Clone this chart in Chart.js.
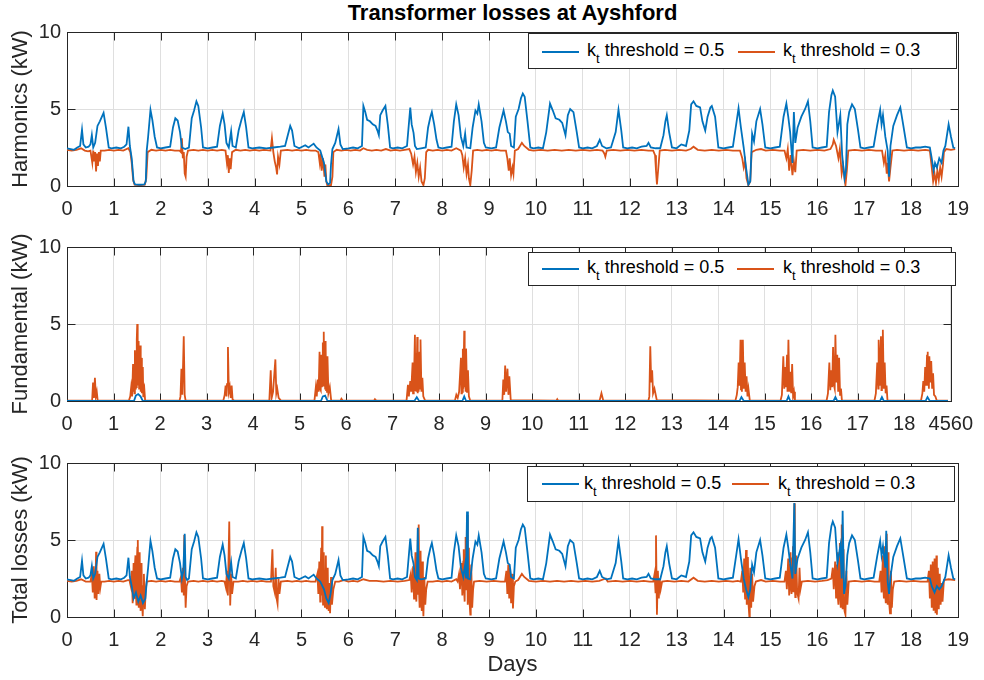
<!DOCTYPE html>
<html>
<head>
<meta charset="utf-8">
<script src="https://cdn.jsdelivr.net/npm/chart.js@4.4.1/dist/chart.umd.min.js"></script>
<style>
  body { margin: 0; background: #fff; }
  #wrap { position: relative; width: 984px; height: 680px; overflow: hidden; font-family: "Liberation Sans", Arial, sans-serif; }
  canvas { position: absolute; left: 0; }
  .title { position: absolute; left: 67px; width: 891px; top: 0; text-align: center; font-weight: bold; font-size: 22px; line-height: 26px; color: #000; }
  .legend { position: absolute; border: 1px solid #262626; background: #fff; box-sizing: border-box; }
  .legend .swatch { position: absolute; width: 37px; height: 2px; }
  .legend .txt { position: absolute; font-size: 18px; line-height: 22px; color: #000; white-space: nowrap; }
  .legend sub { font-size: 13px; position: relative; top: 7px; vertical-align: baseline; }
</style>
</head>
<body>
<div id="wrap">
  <div class="title">Transformer losses at Ayshford</div>
  <canvas id="harm" width="984" height="218" style="top:0px"></canvas>
  <canvas id="fund" width="984" height="218" style="top:218px"></canvas>
  <canvas id="total" width="984" height="244" style="top:436px"></canvas>
</div>
<script>
// [day, kW] pairs
const harmonicsK05 = [
  [0,2.45],[0.08,2.4],[0.15,2.35],[0.22,2.5],[0.28,2.6],[0.32,3.65],[0.35,2.7],[0.4,2.5],[0.46,2.55],[0.5,2.7],[0.53,3.3],[0.56,2.5],[0.6,2.8],[0.65,3.9],[0.7,4.2],[0.78,4.75],[0.83,3.8],[0.89,2.5],[0.95,2.45],
  [1.05,2.5],[1.15,2.45],[1.22,2.55],[1.27,2.7],[1.31,3.85],[1.34,2.6],[1.38,1.8],[1.42,0.3],[1.45,0.1],[1.55,0.08],[1.65,0.1],[1.68,0.3],[1.7,2.3],[1.73,3.2],[1.78,4.95],[1.82,4.3],[1.87,3.2],[1.92,2.5],
  [2.0,2.45],[2.1,2.5],[2.2,2.55],[2.26,3.8],[2.31,4.4],[2.36,4.25],[2.41,3.5],[2.45,2.5],[2.52,2.4],[2.6,2.5],[2.66,4.4],[2.71,4.9],[2.76,5.5],[2.8,5.2],[2.86,3.8],[2.9,2.5],
  [3.0,2.45],[3.1,2.5],[3.2,2.55],[3.26,3.9],[3.32,4.7],[3.36,4.0],[3.4,2.8],[3.45,2.5],[3.5,3.55],[3.53,2.6],[3.6,2.5],[3.66,3.6],[3.72,4.3],[3.77,4.8],[3.82,3.8],[3.87,2.5],[3.95,2.45],
  [4.1,2.5],[4.25,2.45],[4.4,2.5],[4.55,2.55],[4.65,2.6],[4.7,3.2],[4.76,3.9],[4.8,3.6],[4.85,2.6],[4.95,2.45],
  [5.08,2.65],[5.15,2.5],[5.26,2.75],[5.32,2.5],[5.4,2.3],[5.48,1.5],[5.53,0.3],[5.57,0.1],[5.61,0.2],[5.63,1.4],[5.66,2.4],[5.72,2.8],[5.79,3.7],[5.83,2.7],[5.88,2.4],
  [6.0,2.45],[6.1,2.5],[6.2,2.45],[6.29,2.6],[6.32,5.2],[6.36,4.8],[6.4,4.3],[6.46,4.2],[6.52,4.0],[6.58,3.9],[6.62,3.6],[6.65,3.3],[6.68,4.6],[6.73,4.9],[6.79,5.2],[6.84,4.0],[6.89,2.5],[6.95,2.45],
  [7.05,2.5],[7.15,2.45],[7.25,2.6],[7.32,5.1],[7.35,4.0],[7.39,3.45],[7.42,2.6],[7.46,2.4],[7.55,2.45],[7.65,2.5],[7.7,3.8],[7.75,4.5],[7.78,4.8],[7.83,4.0],[7.88,3.0],[7.92,2.5],
  [8.0,2.45],[8.1,2.5],[8.2,2.55],[8.25,4.2],[8.3,5.3],[8.35,4.6],[8.4,3.2],[8.45,2.6],[8.49,3.4],[8.52,2.5],[8.6,2.45],[8.65,3.8],[8.71,4.9],[8.75,4.7],[8.78,5.3],[8.84,4.2],[8.89,2.8],[8.93,2.5],
  [9.05,2.45],[9.15,2.5],[9.22,3.8],[9.31,4.9],[9.36,4.2],[9.4,3.5],[9.44,3.4],[9.47,2.6],[9.53,2.5],[9.57,4.5],[9.63,5.0],[9.68,5.7],[9.72,6.0],[9.76,5.8],[9.82,4.2],[9.88,2.5],[9.95,2.45],
  [10.05,2.5],[10.15,2.45],[10.22,3.5],[10.3,5.35],[10.36,4.9],[10.42,4.4],[10.5,4.3],[10.56,4.1],[10.63,3.3],[10.68,4.6],[10.73,5.0],[10.8,4.8],[10.87,3.5],[10.92,2.5],
  [11.0,2.45],[11.1,2.5],[11.2,2.45],[11.3,2.6],[11.36,3.0],[11.41,2.6],[11.5,2.45],[11.6,2.5],[11.7,3.5],[11.76,4.95],[11.82,3.6],[11.86,2.5],[11.95,2.45],
  [12.05,2.5],[12.15,2.45],[12.25,2.55],[12.36,2.6],[12.4,2.8],[12.45,2.5],[12.55,2.45],[12.65,2.45],[12.72,3.3],[12.76,4.2],[12.79,4.6],[12.84,3.5],[12.9,2.5],
  [13.0,2.45],[13.1,2.7],[13.2,2.6],[13.27,3.6],[13.31,5.3],[13.36,5.5],[13.42,5.2],[13.5,5.1],[13.55,4.2],[13.61,3.6],[13.66,4.5],[13.72,5.1],[13.75,5.2],[13.82,4.5],[13.89,2.5],
  [14.0,2.45],[14.1,2.5],[14.2,2.55],[14.27,4.0],[14.32,5.05],[14.37,3.8],[14.43,2.5],[14.48,1.2],[14.53,0.1],[14.57,0.3],[14.61,3.4],[14.65,2.9],[14.7,4.2],[14.78,5.0],[14.83,4.0],[14.89,2.5],
  [15.0,2.45],[15.1,2.5],[15.2,2.55],[15.28,4.5],[15.34,5.35],[15.38,4.5],[15.42,3.5],[15.47,1.5],[15.5,4.8],[15.53,2.8],[15.58,3.8],[15.66,4.5],[15.74,5.0],[15.8,5.5],[15.85,4.2],[15.9,2.5],
  [16.0,2.45],[16.1,2.5],[16.2,2.55],[16.25,4.8],[16.3,5.9],[16.33,6.2],[16.38,5.8],[16.43,3.5],[16.49,4.6],[16.53,2.0],[16.58,0.5],[16.61,1.0],[16.64,4.0],[16.68,4.8],[16.74,5.3],[16.8,5.0],[16.87,3.6],[16.92,2.5],
  [17.0,2.45],[17.1,2.5],[17.2,2.55],[17.28,4.0],[17.34,4.95],[17.37,4.0],[17.4,4.6],[17.45,3.2],[17.5,2.3],[17.53,0.6],[17.56,2.6],[17.62,3.9],[17.7,4.6],[17.77,5.1],[17.83,4.0],[17.91,2.5],
  [18.0,2.45],[18.1,2.5],[18.2,2.5],[18.3,2.55],[18.4,2.5],[18.44,1.8],[18.48,1.0],[18.51,1.5],[18.55,1.2],[18.6,1.8],[18.65,1.5],[18.69,2.3],[18.73,2.6],[18.8,4.0],[18.85,3.2],[18.9,2.5],[18.94,2.45]
];

const harmonicsK03 = [
  [0,2.35],[0.1,2.3],[0.2,2.35],[0.3,2.45],[0.38,2.3],[0.45,2.25],[0.5,2.3],[0.54,1.5],[0.56,2.3],[0.58,1.6],[0.6,2.2],[0.62,0.95],[0.64,2.1],[0.66,1.3],[0.68,2.2],[0.7,1.6],[0.72,2.3],[0.8,2.3],[0.9,2.35],
  [1.0,2.3],[1.1,2.35],[1.2,2.3],[1.31,2.45],[1.35,2.2],[1.38,1.5],[1.41,0.4],[1.44,0.08],[1.55,0.05],[1.66,0.08],[1.69,0.5],[1.72,2.2],[1.8,2.35],[1.9,2.3],
  [2.0,2.35],[2.1,2.3],[2.2,2.35],[2.3,2.3],[2.4,2.3],[2.43,2.2],[2.45,3.1],[2.47,1.8],[2.49,2.2],[2.51,0.8],[2.53,0.6],[2.55,1.9],[2.58,2.3],[2.7,2.35],[2.8,2.3],[2.9,2.35],
  [3.0,2.3],[3.1,2.35],[3.2,2.3],[3.3,2.35],[3.38,2.3],[3.41,1.5],[3.43,2.0],[3.45,0.85],[3.47,1.8],[3.49,1.1],[3.52,2.2],[3.6,2.35],[3.7,2.3],[3.8,2.35],[3.9,2.3],
  [4.0,2.35],[4.1,2.3],[4.2,2.35],[4.34,2.3],[4.37,3.1],[4.4,2.2],[4.43,1.6],[4.46,1.2],[4.48,0.75],[4.5,1.9],[4.53,1.4],[4.56,2.3],[4.7,2.35],[4.8,2.3],[4.9,2.35],
  [5.0,2.3],[5.1,2.35],[5.2,2.3],[5.3,2.3],[5.36,2.2],[5.39,1.5],[5.41,2.1],[5.43,1.0],[5.46,1.8],[5.49,0.6],[5.51,1.4],[5.53,0.3],[5.55,0.05],[5.63,0.05],[5.66,0.6],[5.68,2.2],[5.75,2.35],[5.85,2.3],[5.95,2.35],
  [6.05,2.3],[6.15,2.35],[6.25,2.3],[6.32,2.45],[6.4,2.35],[6.5,2.3],[6.6,2.35],[6.7,2.3],[6.8,2.4],[6.9,2.3],
  [7.0,2.35],[7.1,2.3],[7.2,2.35],[7.3,2.4],[7.34,2.1],[7.38,1.4],[7.41,1.9],[7.44,0.9],[7.47,1.5],[7.5,0.6],[7.53,1.2],[7.56,0.3],[7.6,0.05],[7.63,0.5],[7.66,2.2],[7.7,2.35],[7.8,2.3],[7.9,2.35],
  [8.0,2.3],[8.1,2.35],[8.2,2.3],[8.3,2.45],[8.4,2.3],[8.43,2.0],[8.46,1.2],[8.49,1.8],[8.52,0.8],[8.55,1.4],[8.57,0.5],[8.6,0.05],[8.63,1.0],[8.66,2.3],[8.75,2.35],[8.85,2.3],[8.95,2.35],
  [9.05,2.3],[9.15,2.35],[9.25,2.3],[9.36,2.3],[9.39,1.8],[9.42,1.0],[9.44,1.8],[9.47,0.7],[9.5,1.2],[9.52,0.8],[9.55,2.3],[9.62,2.4],[9.7,2.8],[9.75,2.6],[9.85,2.35],[9.95,2.3],
  [10.1,2.35],[10.25,2.3],[10.4,2.35],[10.55,2.3],[10.7,2.35],[10.85,2.3],[11.0,2.35],[11.15,2.3],[11.3,2.35],[11.42,2.3],[11.46,2.1],[11.48,1.9],[11.51,2.3],[11.65,2.35],[11.8,2.3],[11.95,2.35],
  [12.1,2.3],[12.25,2.35],[12.4,2.3],[12.5,2.3],[12.54,2.0],[12.56,1.0],[12.58,0.1],[12.61,1.2],[12.64,2.3],[12.75,2.35],[12.9,2.3],
  [13.05,2.35],[13.2,2.3],[13.3,2.4],[13.36,2.55],[13.45,2.35],[13.6,2.3],[13.75,2.35],[13.9,2.3],
  [14.05,2.35],[14.2,2.3],[14.35,2.3],[14.4,1.8],[14.43,1.2],[14.46,1.6],[14.49,0.5],[14.53,0.05],[14.57,0.3],[14.6,2.2],[14.7,2.35],[14.8,2.4],[14.9,2.3],
  [15.05,2.35],[15.2,2.3],[15.3,2.3],[15.34,1.8],[15.37,2.4],[15.4,1.0],[15.43,2.0],[15.47,0.7],[15.5,1.6],[15.53,0.9],[15.56,2.3],[15.7,2.35],[15.85,2.3],
  [16.0,2.35],[16.15,2.3],[16.28,2.4],[16.33,2.7],[16.35,3.0],[16.4,2.6],[16.45,1.8],[16.48,2.4],[16.52,0.8],[16.55,1.3],[16.6,0.05],[16.63,1.0],[16.66,2.3],[16.8,2.35],[16.95,2.3],
  [17.1,2.35],[17.25,2.3],[17.38,2.3],[17.42,1.5],[17.45,2.0],[17.48,0.8],[17.5,1.5],[17.53,0.3],[17.56,1.2],[17.6,2.3],[17.7,2.35],[17.85,2.3],
  [18.0,2.35],[18.15,2.3],[18.3,2.35],[18.4,2.3],[18.44,1.2],[18.47,0.3],[18.5,0.8],[18.53,0.2],[18.56,1.0],[18.59,0.4],[18.62,1.2],[18.65,0.6],[18.68,1.4],[18.7,2.2],[18.75,2.4],[18.85,2.35],[18.94,2.4]
];

const fundamentalK05 = [
  [0,0],[1.44,0],[1.48,0.35],[1.53,0.45],[1.58,0.3],[1.63,0],[5.46,0],[5.5,0.3],[5.55,0.35],[5.6,0],
  [7.47,0],[7.52,0.25],[7.57,0],[8.5,0],[8.54,0.3],[8.58,0],[14.46,0],[14.5,0.25],[14.55,0],
  [15.47,0],[15.51,0.3],[15.55,0],[16.48,0],[16.52,0.25],[16.56,0],[17.48,0],[17.52,0.25],[17.56,0],
  [18.46,0],[18.5,0.25],[18.55,0],[18.94,0]
];

const fundamentalK03 = [
  [0,0.02],[0.54,0.02],[0.56,1.2],[0.58,0.2],[0.6,1.5],[0.62,0.3],[0.64,0.6],[0.66,0.02],
  [1.33,0.02],[1.36,0.3],[1.38,0.9],[1.4,0.3],[1.42,2.4],[1.43,0.6],[1.44,1.8],[1.45,0.5],[1.46,3.3],[1.47,0.8],[1.48,2.6],[1.49,0.9],[1.5,4.0],[1.51,5.0],[1.52,1.0],[1.53,3.2],[1.54,3.9],[1.55,0.8],[1.56,3.0],[1.57,3.6],[1.58,0.6],[1.59,2.4],[1.6,2.8],[1.61,0.5],[1.62,1.8],[1.63,2.2],[1.64,0.3],[1.65,0.8],[1.66,0.9],[1.68,0.02],
  [2.42,0.02],[2.44,0.3],[2.46,2.1],[2.48,0.4],[2.51,4.2],[2.53,0.4],[2.55,0.02],
  [3.36,0.02],[3.39,0.4],[3.41,1.0],[3.43,0.3],[3.44,1.1],[3.46,3.5],[3.48,0.6],[3.5,0.9],[3.52,0.2],[3.54,1.0],[3.56,0.1],[3.6,0.02],
  [4.35,0.02],[4.38,2.0],[4.4,0.2],[4.43,0.6],[4.48,2.7],[4.5,0.5],[4.52,0.8],[4.55,0.2],[4.6,0.02],
  [5.32,0.02],[5.35,0.9],[5.37,0.3],[5.39,1.4],[5.41,0.6],[5.43,3.2],[5.44,0.8],[5.45,2.2],[5.46,0.7],[5.47,3.0],[5.48,0.9],[5.49,2.4],[5.5,3.8],[5.51,1.0],[5.52,4.5],[5.53,1.2],[5.54,3.4],[5.55,0.8],[5.56,3.9],[5.57,0.7],[5.58,2.6],[5.59,0.6],[5.6,2.9],[5.62,0.5],[5.65,0.9],[5.68,0.02],
  [5.88,0.02],[5.9,0.15],[5.93,0.02],[6.6,0.02],[6.62,0.12],[6.65,0.02],
  [7.3,0.02],[7.33,1.05],[7.35,0.3],[7.38,1.3],[7.4,0.6],[7.43,2.5],[7.44,0.5],[7.45,1.8],[7.46,0.6],[7.48,4.3],[7.49,0.7],[7.5,3.1],[7.51,0.6],[7.53,4.15],[7.54,0.5],[7.55,2.4],[7.56,0.6],[7.58,3.2],[7.59,0.8],[7.6,4.0],[7.62,0.6],[7.64,1.5],[7.66,0.3],[7.7,0.02],
  [8.34,0.02],[8.37,0.4],[8.4,0.2],[8.43,0.6],[8.47,2.8],[8.48,0.5],[8.49,1.6],[8.5,0.6],[8.51,3.4],[8.52,0.8],[8.54,4.56],[8.55,0.9],[8.56,3.0],[8.57,0.6],[8.58,3.4],[8.6,0.6],[8.62,2.0],[8.64,0.3],[8.67,0.02],
  [9.36,0.02],[9.38,1.4],[9.4,0.4],[9.42,2.3],[9.44,0.6],[9.47,2.1],[9.49,0.4],[9.51,1.6],[9.54,0.05],
  [10.52,0.02],[10.54,0.12],[10.56,0.02],[11.45,0.02],[11.49,0.5],[11.53,0.02],
  [12.5,0.02],[12.52,0.3],[12.54,3.55],[12.56,1.2],[12.58,2.0],[12.6,0.5],[12.63,0.8],[12.68,0.05],
  [14.37,0.02],[14.4,0.4],[14.42,0.9],[14.44,2.5],[14.46,1.0],[14.48,3.98],[14.49,0.7],[14.5,2.4],[14.51,0.6],[14.53,3.98],[14.55,0.8],[14.57,2.5],[14.59,0.6],[14.61,1.6],[14.63,0.3],[14.65,0.8],[14.68,0.02],
  [15.34,0.02],[15.37,0.4],[15.4,2.9],[15.42,0.8],[15.44,2.2],[15.46,0.9],[15.48,3.0],[15.49,0.6],[15.51,3.98],[15.53,0.6],[15.55,1.9],[15.57,0.5],[15.59,2.4],[15.61,0.3],[15.63,0.6],[15.65,0.02],
  [16.33,0.02],[16.36,0.5],[16.39,2.5],[16.41,0.7],[16.43,2.0],[16.45,0.9],[16.47,3.5],[16.49,1.0],[16.5,2.6],[16.51,0.8],[16.52,4.3],[16.54,1.2],[16.56,3.0],[16.58,0.6],[16.6,2.8],[16.62,0.4],[16.64,0.8],[16.66,0.02],
  [17.36,0.02],[17.39,0.5],[17.42,2.5],[17.44,0.8],[17.45,3.98],[17.47,1.0],[17.5,4.2],[17.51,0.7],[17.52,2.5],[17.53,0.9],[17.54,4.63],[17.56,0.8],[17.58,2.5],[17.6,0.5],[17.62,1.0],[17.64,0.02],
  [18.36,0.02],[18.39,0.5],[18.41,1.3],[18.43,0.6],[18.45,2.2],[18.47,1.0],[18.49,3.0],[18.5,3.2],[18.51,1.0],[18.52,2.4],[18.53,0.8],[18.54,2.9],[18.56,1.2],[18.58,2.6],[18.6,0.8],[18.62,1.8],[18.64,0.4],[18.67,0.3],[18.7,0.02],[18.94,0.02]
];

const totalK05 = [
  [0,2.45],[0.08,2.4],[0.15,2.35],[0.22,2.5],[0.28,2.6],[0.32,3.65],[0.35,2.7],[0.4,2.5],[0.46,2.55],[0.5,2.7],[0.53,3.3],[0.56,2.5],[0.6,2.8],[0.65,3.9],[0.7,4.2],[0.78,4.75],[0.83,3.8],[0.89,2.5],[0.95,2.45],
  [1.05,2.5],[1.15,2.45],[1.22,2.55],[1.27,2.7],[1.31,3.85],[1.34,2.6],[1.38,2.0],[1.42,1.2],[1.47,1.6],[1.52,1.0],[1.57,1.4],[1.62,0.9],[1.67,1.2],[1.7,2.3],[1.73,3.2],[1.78,4.95],[1.82,4.3],[1.87,3.2],[1.92,2.5],
  [2.0,2.45],[2.1,2.5],[2.2,2.55],[2.26,3.8],[2.31,4.4],[2.36,4.25],[2.41,3.5],[2.45,2.5],[2.48,3.0],[2.51,5.4],[2.53,2.6],[2.56,2.4],[2.6,2.5],[2.66,4.4],[2.71,4.9],[2.76,5.5],[2.8,5.2],[2.86,3.8],[2.9,2.5],
  [3.0,2.45],[3.1,2.5],[3.2,2.55],[3.26,3.9],[3.32,4.7],[3.36,4.0],[3.4,2.8],[3.45,2.5],[3.5,3.55],[3.53,2.6],[3.6,2.5],[3.66,3.6],[3.72,4.3],[3.77,4.8],[3.82,3.8],[3.87,2.5],[3.95,2.45],
  [4.1,2.5],[4.25,2.45],[4.4,2.5],[4.55,2.55],[4.65,2.6],[4.7,3.2],[4.76,3.9],[4.8,3.6],[4.85,2.6],[4.95,2.45],
  [5.08,2.65],[5.15,2.5],[5.26,2.75],[5.32,2.5],[5.4,2.3],[5.48,1.8],[5.53,1.2],[5.58,0.9],[5.62,1.5],[5.66,2.4],[5.72,2.8],[5.79,3.7],[5.83,2.7],[5.88,2.4],
  [6.0,2.45],[6.1,2.5],[6.2,2.45],[6.29,2.6],[6.32,5.2],[6.36,4.8],[6.4,4.3],[6.46,4.2],[6.52,4.0],[6.58,3.9],[6.62,3.6],[6.65,3.3],[6.68,4.6],[6.73,4.9],[6.79,5.2],[6.84,4.0],[6.89,2.5],[6.95,2.45],
  [7.05,2.5],[7.15,2.45],[7.25,2.6],[7.32,5.1],[7.35,4.0],[7.39,3.45],[7.42,2.6],[7.46,2.4],[7.48,5.8],[7.5,2.5],[7.55,2.45],[7.65,2.5],[7.7,3.8],[7.75,4.5],[7.78,4.8],[7.83,4.0],[7.88,3.0],[7.92,2.5],
  [8.0,2.45],[8.1,2.5],[8.2,2.55],[8.25,4.2],[8.3,5.3],[8.35,4.6],[8.4,3.2],[8.45,2.6],[8.49,3.4],[8.51,2.5],[8.53,6.85],[8.55,2.5],[8.6,2.45],[8.65,3.8],[8.71,4.9],[8.75,4.7],[8.78,5.3],[8.84,4.2],[8.89,2.8],[8.93,2.5],
  [9.05,2.45],[9.15,2.5],[9.22,3.8],[9.31,4.9],[9.36,4.2],[9.4,3.5],[9.44,3.4],[9.47,2.6],[9.53,2.5],[9.57,4.5],[9.63,5.0],[9.68,5.7],[9.72,6.0],[9.76,5.8],[9.82,4.2],[9.88,2.5],[9.95,2.45],
  [10.05,2.5],[10.15,2.45],[10.22,3.5],[10.3,5.35],[10.36,4.9],[10.42,4.4],[10.5,4.3],[10.56,4.1],[10.63,3.3],[10.68,4.6],[10.73,5.0],[10.8,4.8],[10.87,3.5],[10.92,2.5],
  [11.0,2.45],[11.1,2.5],[11.2,2.45],[11.3,2.6],[11.36,3.0],[11.41,2.6],[11.5,2.45],[11.6,2.5],[11.7,3.5],[11.76,4.95],[11.82,3.6],[11.86,2.5],[11.95,2.45],
  [12.05,2.5],[12.15,2.45],[12.25,2.55],[12.36,2.6],[12.4,2.8],[12.45,2.5],[12.55,2.45],[12.65,2.45],[12.72,3.3],[12.76,4.2],[12.79,4.6],[12.84,3.5],[12.9,2.5],
  [13.0,2.45],[13.1,2.7],[13.2,2.6],[13.27,3.6],[13.31,5.3],[13.36,5.5],[13.42,5.2],[13.5,5.1],[13.55,4.2],[13.61,3.6],[13.66,4.5],[13.72,5.1],[13.75,5.2],[13.82,4.5],[13.89,2.5],
  [14.0,2.45],[14.1,2.5],[14.2,2.55],[14.27,4.0],[14.32,5.05],[14.37,3.8],[14.43,2.5],[14.48,1.8],[14.53,1.3],[14.57,1.8],[14.61,3.4],[14.65,2.9],[14.7,4.2],[14.78,5.0],[14.83,4.0],[14.89,2.5],
  [15.0,2.45],[15.1,2.5],[15.2,2.55],[15.28,4.5],[15.34,5.35],[15.38,4.5],[15.42,3.5],[15.47,2.5],[15.51,7.4],[15.53,2.8],[15.58,3.8],[15.66,4.5],[15.74,5.0],[15.8,5.5],[15.85,4.2],[15.9,2.5],
  [16.0,2.45],[16.1,2.5],[16.2,2.55],[16.25,4.8],[16.3,5.9],[16.33,6.2],[16.38,5.8],[16.43,3.5],[16.49,4.6],[16.52,2.5],[16.54,6.9],[16.57,1.5],[16.6,2.0],[16.64,4.0],[16.68,4.8],[16.74,5.3],[16.8,5.0],[16.87,3.6],[16.92,2.5],
  [17.0,2.45],[17.1,2.5],[17.2,2.55],[17.28,4.0],[17.34,4.95],[17.37,4.0],[17.4,4.6],[17.45,3.2],[17.47,5.6],[17.5,2.3],[17.53,1.5],[17.56,2.6],[17.62,3.9],[17.7,4.6],[17.77,5.1],[17.83,4.0],[17.91,2.5],
  [18.0,2.45],[18.1,2.5],[18.2,2.5],[18.3,2.55],[18.4,2.5],[18.44,2.0],[18.5,1.6],[18.55,2.0],[18.6,1.8],[18.65,2.0],[18.69,2.3],[18.73,2.6],[18.8,4.0],[18.85,3.2],[18.9,2.5],[18.94,2.45]
];

const totalK03 = [
  [0,2.35],[0.1,2.3],[0.2,2.35],[0.3,2.45],[0.4,2.3],[0.5,2.3],[0.53,2.8],[0.55,1.6],[0.57,3.3],[0.59,1.2],[0.61,2.6],[0.62,4.24],[0.63,1.1],[0.65,3.0],[0.67,1.5],[0.69,2.8],[0.71,1.9],[0.73,2.3],
  [0.8,2.3],[0.9,2.35],[1.0,2.3],[1.1,2.35],[1.2,2.3],[1.3,2.4],
  [1.33,2.4],[1.36,2.0],[1.38,3.0],[1.4,0.9],[1.42,3.5],[1.43,1.5],[1.44,1.2],[1.45,3.2],[1.46,4.0],[1.47,1.6],[1.48,0.8],[1.49,3.6],[1.5,4.5],[1.51,5.0],[1.52,1.4],[1.53,0.6],[1.54,3.4],[1.55,4.2],[1.56,1.0],[1.57,0.4],[1.58,2.8],[1.59,3.5],[1.6,1.0],[1.61,0.3],[1.62,0.05],[1.63,2.0],[1.64,2.8],[1.66,0.5],[1.68,1.8],[1.7,2.3],
  [1.8,2.35],[1.9,2.3],[2.0,2.35],[2.1,2.3],[2.2,2.35],[2.3,2.3],
  [2.4,2.3],[2.43,2.6],[2.45,1.6],[2.47,3.2],[2.49,1.4],[2.5,5.33],[2.52,1.8],[2.53,0.6],[2.55,2.0],[2.58,2.3],
  [2.7,2.35],[2.8,2.3],[2.9,2.35],[3.0,2.3],[3.1,2.35],[3.2,2.3],[3.3,2.35],
  [3.36,2.3],[3.39,1.9],[3.41,3.0],[3.43,1.4],[3.46,6.2],[3.48,0.75],[3.5,2.8],[3.52,1.5],[3.55,2.3],
  [3.65,2.3],[3.75,2.35],[3.85,2.3],[3.95,2.35],[4.05,2.3],[4.15,2.35],[4.25,2.3],
  [4.35,2.3],[4.38,4.4],[4.4,2.0],[4.43,1.6],[4.45,3.2],[4.47,1.2],[4.49,0.85],[4.51,2.5],[4.53,1.5],[4.56,2.3],
  [4.7,2.35],[4.8,2.3],[4.9,2.35],[5.0,2.3],[5.1,2.35],[5.2,2.3],
  [5.3,2.3],[5.34,2.8],[5.36,1.5],[5.38,3.6],[5.4,1.0],[5.41,3.0],[5.42,4.5],[5.43,1.4],[5.44,5.9],[5.45,2.0],[5.46,0.8],[5.47,3.4],[5.48,4.2],[5.49,1.2],[5.5,0.6],[5.51,3.0],[5.52,4.0],[5.53,1.0],[5.54,0.5],[5.55,2.6],[5.56,3.2],[5.57,0.9],[5.58,0.4],[5.59,2.2],[5.61,0.24],[5.63,2.6],[5.65,0.8],[5.68,1.8],[5.72,2.3],
  [5.8,2.3],[5.9,2.4],[6.0,2.3],[6.1,2.35],[6.2,2.3],[6.32,2.45],[6.45,2.35],[6.6,2.35],[6.75,2.3],[6.9,2.35],[7.05,2.3],[7.2,2.35],
  [7.3,2.4],[7.33,2.8],[7.35,1.6],[7.38,3.3],[7.4,1.2],[7.42,3.0],[7.43,4.2],[7.44,1.6],[7.45,1.0],[7.47,3.8],[7.48,5.0],[7.49,1.5],[7.5,6.0],[7.51,1.4],[7.52,0.6],[7.53,3.0],[7.54,4.3],[7.55,1.2],[7.56,0.4],[7.57,2.8],[7.58,3.6],[7.59,1.0],[7.6,0.05],[7.62,2.6],[7.64,0.8],[7.66,1.8],[7.69,2.3],
  [7.8,2.3],[7.9,2.35],[8.0,2.3],[8.1,2.35],[8.2,2.3],[8.3,2.45],
  [8.33,2.3],[8.36,2.8],[8.38,1.8],[8.41,3.5],[8.43,1.4],[8.45,3.6],[8.46,4.4],[8.47,1.6],[8.48,1.0],[8.49,4.0],[8.5,5.2],[8.51,1.8],[8.52,3.0],[8.53,6.63],[8.54,1.6],[8.55,0.8],[8.56,3.6],[8.57,4.5],[8.58,1.2],[8.6,0.15],[8.61,2.4],[8.62,3.4],[8.64,0.6],[8.66,1.8],[8.68,2.3],
  [8.8,2.35],[8.95,2.3],[9.1,2.35],[9.25,2.3],
  [9.34,2.3],[9.37,3.0],[9.39,1.5],[9.41,3.4],[9.43,1.2],[9.45,3.2],[9.47,0.9],[9.49,2.8],[9.51,0.55],[9.53,2.0],[9.56,2.3],
  [9.62,2.4],[9.7,2.8],[9.75,2.6],[9.85,2.35],[10.0,2.3],[10.15,2.35],[10.3,2.3],[10.45,2.35],[10.6,2.3],[10.75,2.35],[10.9,2.3],[11.05,2.35],[11.2,2.3],[11.35,2.35],[11.49,2.5],[11.53,2.3],
  [11.7,2.35],[11.85,2.3],[12.0,2.35],[12.15,2.3],[12.3,2.35],[12.42,2.3],
  [12.5,2.3],[12.53,2.8],[12.55,1.6],[12.56,5.3],[12.58,0.15],[12.6,3.0],[12.62,1.2],[12.64,2.5],[12.66,1.8],[12.69,2.3],
  [12.8,2.35],[12.95,2.3],[13.1,2.35],[13.25,2.3],[13.36,2.55],[13.45,2.35],[13.6,2.3],[13.75,2.35],[13.9,2.3],[14.05,2.35],[14.2,2.3],[14.3,2.35],
  [14.37,2.3],[14.4,3.0],[14.42,1.6],[14.44,3.8],[14.45,1.8],[14.46,1.2],[14.47,3.4],[14.48,4.35],[14.49,1.4],[14.5,0.8],[14.51,3.0],[14.52,3.9],[14.53,1.0],[14.55,0.05],[14.56,2.4],[14.57,3.2],[14.59,0.6],[14.61,2.8],[14.63,1.0],[14.66,2.0],[14.69,2.3],
  [14.8,2.4],[14.9,2.3],[15.05,2.35],[15.2,2.3],
  [15.3,2.3],[15.33,3.0],[15.35,1.8],[15.38,3.8],[15.4,1.4],[15.42,3.4],[15.43,4.2],[15.44,1.8],[15.45,1.5],[15.47,3.8],[15.48,4.6],[15.49,1.6],[15.51,7.39],[15.52,2.0],[15.53,1.3],[15.54,3.4],[15.55,4.0],[15.57,1.6],[15.6,1.2],[15.62,3.2],[15.64,1.8],[15.67,2.3],
  [15.8,2.35],[15.95,2.3],[16.1,2.35],[16.22,2.4],
  [16.3,2.5],[16.33,3.2],[16.35,1.8],[16.38,3.6],[16.4,1.2],[16.42,3.4],[16.43,4.2],[16.44,1.4],[16.45,0.8],[16.47,4.0],[16.48,4.8],[16.49,1.2],[16.5,0.6],[16.51,4.4],[16.52,6.0],[16.53,1.4],[16.54,0.5],[16.55,3.6],[16.56,4.4],[16.57,1.0],[16.58,0.4],[16.6,0.15],[16.62,3.0],[16.64,0.8],[16.67,2.3],
  [16.8,2.35],[16.95,2.3],[17.1,2.35],[17.22,2.3],
  [17.32,2.3],[17.35,3.0],[17.37,1.6],[17.4,4.0],[17.41,1.8],[17.42,1.2],[17.43,3.8],[17.44,4.6],[17.45,1.4],[17.46,0.9],[17.47,4.2],[17.48,5.4],[17.49,1.6],[17.5,0.8],[17.51,3.4],[17.52,4.2],[17.53,1.0],[17.55,0.24],[17.57,3.0],[17.59,0.6],[17.61,1.8],[17.64,2.3],
  [17.75,2.35],[17.9,2.3],[18.05,2.35],[18.2,2.3],
  [18.35,2.3],[18.38,3.0],[18.4,1.2],[18.42,3.4],[18.44,0.6],[18.45,2.8],[18.46,3.6],[18.48,0.4],[18.49,3.0],[18.5,3.8],[18.52,0.3],[18.53,2.6],[18.54,4.0],[18.55,0.15],[18.57,3.2],[18.59,0.5],[18.61,2.8],[18.63,0.8],[18.65,2.2],[18.67,1.0],[18.7,2.4],
  [18.8,2.45],[18.94,2.4]
];

const dayLabels = ['0','1','2','3','4','5','6','7','8','9','10','11','12','13','14','15','16','17','18','19'];
const fundamentalDayLabels = ['0','1','2','3','4','5','6','7','8','9','10','11','12','13','14','15','16','17','18','4560'];
const seriesNames = ['threshold = 0.5', 'threshold = 0.3'];

const BLUE = '#0072BD';
const ORANGE = '#D95319';
const FONT = '"Liberation Sans", Arial, sans-serif';
const INK = '#262626';

const toPts = arr => arr.map(([x, y]) => ({ x, y }));

// MATLAB style box + inward ticks
const boxPlugin = {
    id: 'matlabBox',
    beforeDatasetsDraw(chart) {
        const { ctx, chartArea: a, scales: { x, y } } = chart;
        const L = Math.round(a.left) + 0.5, R = Math.round(a.right) + 0.5;
        const T = Math.round(a.top) + 0.5, B = Math.round(a.bottom) + 0.5;
        ctx.save();
        ctx.strokeStyle = INK;
        ctx.lineWidth = 1;
        ctx.beginPath();
        x.ticks.forEach(t => {
            const px = Math.round(x.getPixelForValue(t.value)) + 0.5;
            ctx.moveTo(px, B); ctx.lineTo(px, B - 8);
            ctx.moveTo(px, T); ctx.lineTo(px, T + 8);
        });
        y.ticks.forEach(t => {
            const py = Math.round(y.getPixelForValue(t.value)) + 0.5;
            ctx.moveTo(L, py); ctx.lineTo(L + 8, py);
            ctx.moveTo(R, py); ctx.lineTo(R - 8, py);
        });
        ctx.stroke();
        ctx.strokeRect(L, T, R - L, B - T);
        ctx.restore();
    }
};

function makeChart(id, cfg) {
    const ctx = document.getElementById(id).getContext('2d');
    return new Chart(ctx, {
        type: 'line',
        data: {
            datasets: [
                { label: seriesNames[0], data: toPts(cfg.blue), borderColor: BLUE, borderWidth: 1.8, pointRadius: 0, tension: 0, fill: false },
                { label: seriesNames[1], data: toPts(cfg.orange), borderColor: ORANGE, borderWidth: 1.8, pointRadius: 0, tension: 0, fill: false }
            ]
        },
        options: {
            responsive: false,
            animation: false,
            events: [],
            devicePixelRatio: 1,
            parsing: false,
            normalized: true,
            layout: { padding: { top: cfg.top, right: 26, bottom: 0, left: 0 } },
            plugins: { legend: { display: false }, tooltip: { enabled: false } },
            scales: {
                x: {
                    type: 'linear', min: 0, max: 19,
                    afterFit: s => { s.height = cfg.height - cfg.top - 154; },
                    ticks: {
                        stepSize: 1, autoSkip: false, maxRotation: 0, padding: 11,
                        color: INK, font: { family: FONT, size: 20 },
                        callback: v => cfg.labels[v]
                    },
                    grid: { color: '#dfdfdf', drawTicks: false },
                    border: { display: false },
                    title: {
                        display: !!cfg.xTitle, text: cfg.xTitle || '', color: INK,
                        font: { family: FONT, size: 22 }, padding: { top: 0, bottom: 2 }
                    }
                },
                y: {
                    min: 0, max: 10,
                    afterFit: s => { s.width = 67; },
                    ticks: { stepSize: 5, padding: 6, color: INK, font: { family: FONT, size: 20 } },
                    grid: { color: '#dfdfdf', drawTicks: false },
                    border: { display: false },
                    title: {
                        display: true, text: cfg.yTitle, color: INK,
                        font: { family: FONT, size: 22 }, padding: { top: 8, bottom: 0 }
                    }
                }
            }
        },
        plugins: [boxPlugin]
    });
}

makeChart('harm', { blue: harmonicsK05, orange: harmonicsK03, top: 32, height: 218, yTitle: 'Harmonics (kW)', labels: dayLabels });
makeChart('fund', { blue: fundamentalK05, orange: fundamentalK03, top: 29, height: 218, yTitle: 'Fundamental (kW)', labels: fundamentalDayLabels });
makeChart('total', { blue: totalK05, orange: totalK03, top: 27, height: 244, yTitle: 'Total losses (kW)', xTitle: 'Days', labels: dayLabels });

// Legends (HTML so the subscript stays real text)
const legends = [
    { left: 528, top: 33, width: 429, height: 36, sw1: 13, tx1: 58, sw2: 209, tx2: 254, swTop: 17, txTop: 4.5 },
    { left: 528, top: 252, width: 428, height: 34, sw1: 13, tx1: 58, sw2: 208, tx2: 254, swTop: 14.5, txTop: 2.5 },
    { left: 527, top: 466, width: 428, height: 36, sw1: 14, tx1: 56, sw2: 204, tx2: 250, swTop: 15.5, txTop: 5 }
];
const wrap = document.getElementById('wrap');
legends.forEach(lg => {
    const box = document.createElement('div');
    box.className = 'legend';
    box.style.cssText = `left:${lg.left}px;top:${lg.top}px;width:${lg.width}px;height:${lg.height}px;`;
    box.innerHTML = `
        <div class="swatch" style="left:${lg.sw1}px;top:${lg.swTop}px;background:${BLUE}"></div>
        <div class="txt" style="left:${lg.tx1}px;top:${lg.txTop}px">k<sub>t</sub> ${seriesNames[0]}</div>
        <div class="swatch" style="left:${lg.sw2}px;top:${lg.swTop}px;background:${ORANGE}"></div>
        <div class="txt" style="left:${lg.tx2}px;top:${lg.txTop}px">k<sub>t</sub> ${seriesNames[1]}</div>`;
    wrap.appendChild(box);
});
</script>
</body>
</html>
